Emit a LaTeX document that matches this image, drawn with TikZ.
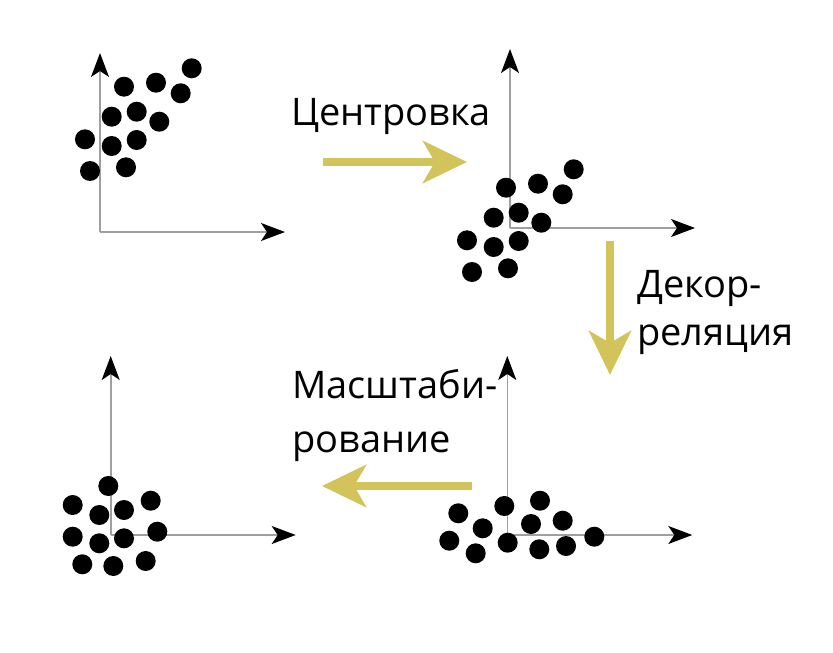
\documentclass[tikz,border=0pt]{standalone}
\usepackage{fontspec}
\setmainfont{Open Sans}
\usetikzlibrary{arrows.meta}
\definecolor{flowyellow}{RGB}{210,195,90}

\begin{document}
\begin{tikzpicture}[
    x=1pt, y=-1pt,
    dot/.style={fill=black},
    axis/.style={draw=gray!75, line width=1.6pt, -{Stealth[length=24pt, width=18pt, inset=6pt, color=black]}},
    flow/.style={draw=flowyellow, line width=8pt, -{Stealth[length=44pt, width=42pt, inset=12pt]}},
    caption/.style={anchor=base west, inner sep=0pt, align=left}
]
\useasboundingbox (0,0) rectangle (833,653);

% Origins of the four plots
\coordinate (o1) at (100,232);
\coordinate (o2) at (510,228);
\coordinate (o3) at (110.7,535);
\coordinate (o4) at (507.3,535);

% Axes
\foreach \o in {o1,o2,o3,o4} {
  \draw[axis] (\o) -- ++(0,-179);
  \draw[axis] (\o) -- ++(185,0);
}

% Raw cloud, and the same cloud after centering
\foreach \dx/\dy in {0/0, 382/101} {
  \begin{scope}[xshift=\dx pt, yshift=-\dy pt]
    \foreach \x/\y in {191.7/68.3, 124/86.7, 156/82.7, 180.7/93.3, 111.7/116.7, 136.7/111.7, 159.3/121.7, 85/139.3, 111.7/146, 136.7/140, 90/171, 126/167.3}
      \fill[dot] (\x,\y) circle (10pt);
  \end{scope}
}

% Scaled cloud
\foreach \x/\y in {108.3/486, 72.7/505, 99.3/515, 124/510, 150.7/500.7, 72.7/536.7, 99.3/543.3, 124/538.3, 157.3/531.7, 82.3/564.3, 113.3/566, 145.7/561}
  \fill[dot] (\x,\y) circle (10pt);

% Decorrelated cloud
\foreach \x/\y in {504.3/506, 540/500.7, 458.3/513.3, 482.7/528.3, 531/524, 562.7/520.7, 449.3/540.7, 507.7/542.7, 594.3/536.7, 475.7/553.3, 539.3/549.3, 566/546}
  \fill[dot] (\x,\y) circle (10pt);

% Step arrows
\coordinate (a1s) at (323,162);
\coordinate (a1e) at (467,162);
\coordinate (a2s) at (610,241);
\coordinate (a2e) at (610,375);
\coordinate (a3s) at (472,486);
\coordinate (a3e) at (322,486);
\draw[flow] (a1s) -- (a1e);
\draw[flow] (a2s) -- (a2e);
\draw[flow] (a3s) -- (a3e);

% Labels (base = last line)
\node[caption, font=\fontsize{38}{48}\selectfont] (centr) at (291,125) {Центровка};
\node[caption, font=\fontsize{38}{48}\selectfont] (decor) at (637,345) {Декор-\\реляция};
\node[caption, font=\fontsize{38}{54}\selectfont] (scale) at (292,452) {Масштаби-\\рование};

\end{tikzpicture}
\end{document}
